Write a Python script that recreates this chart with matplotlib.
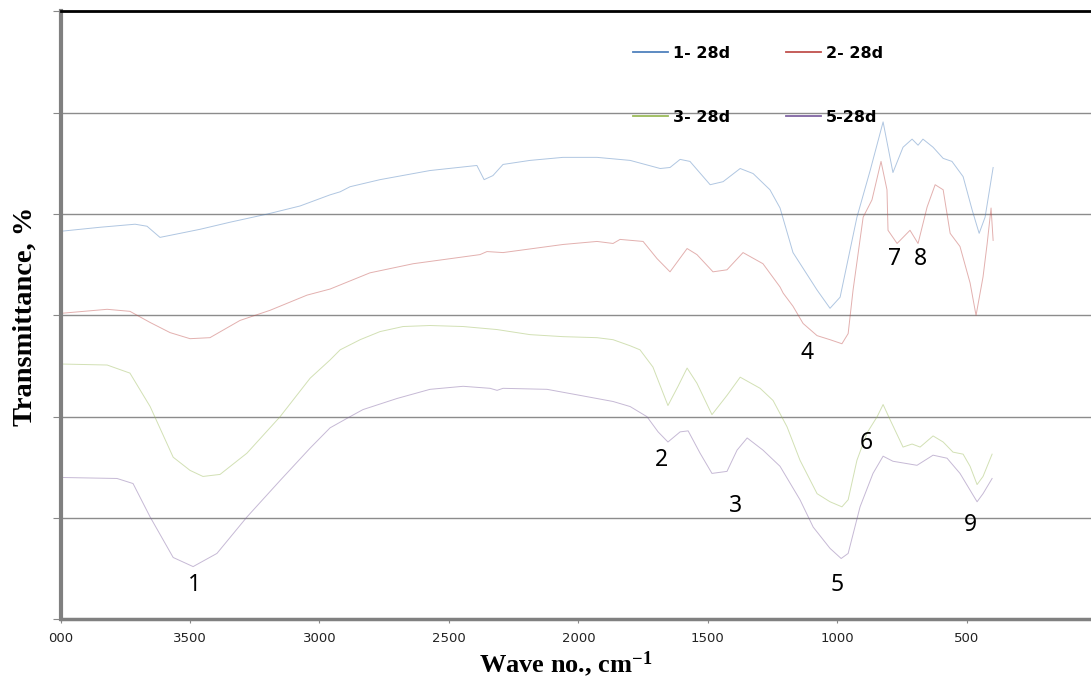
import numpy as np
import matplotlib
matplotlib.use('Agg')
from matplotlib import pyplot as plt

plt.rcParams['mathtext.default'] = 'regular'

# FTIR spectra (wave number in cm-1, transmittance in arbitrary %)
wn_1 = [4000, 3847, 3712, 3666, 3616, 3538, 3461, 3345, 3202, 3075, 2959, 2920, 2882, 2766, 2573,
        2392, 2364, 2330, 2291, 2187, 2059, 1928, 1800, 1684, 1646, 1607, 1569, 1491, 1441, 1375,
        1325, 1260, 1221, 1171, 1078, 1028, 989, 924, 873, 823, 785, 746, 711, 688, 669, 630,
        591, 557, 514, 479, 452, 429, 398]
tr_1 = [38.3, 38.7, 39.0, 38.8, 37.7, 38.1, 38.5, 39.2, 40.0, 40.8, 41.9, 42.2, 42.7, 43.4, 44.3,
        44.8, 43.4, 43.8, 44.9, 45.3, 45.6, 45.6, 45.3, 44.5, 44.6, 45.4, 45.2, 42.9, 43.2, 44.5,
        44.0, 42.4, 40.6, 36.2, 32.5, 30.7, 31.8, 39.7, 44.3, 49.1, 44.1, 46.6, 47.4, 46.8, 47.4, 46.6,
        45.5, 45.2, 43.7, 40.4, 38.1, 39.7, 44.6]

wn_2 = [4000, 3820, 3732, 3654, 3577, 3500, 3423, 3307, 3191, 3048, 2959, 2805, 2638, 2380, 2353,
        2291, 2059, 1928, 1866, 1839, 1750, 1696, 1646, 1580, 1542, 1480, 1426, 1364, 1287, 1221,
        1209, 1171, 1132, 1078, 1028, 982, 958, 939, 900, 866, 831, 808, 804, 769, 719, 688, 653,
        622, 591, 564, 526, 487, 464, 437, 421, 406, 398]
tr_2 = [30.2, 30.6, 30.4, 29.3, 28.3, 27.7, 27.8, 29.5, 30.5, 32.0, 32.6, 34.2, 35.1, 36.0, 36.3,
        36.2, 37.0, 37.3, 37.1, 37.5, 37.3, 35.6, 34.3, 36.6, 36.0, 34.3, 34.5, 36.2, 35.1, 32.8,
        32.2, 30.9, 29.2, 28.0, 27.6, 27.2, 28.2, 32.5, 39.7, 41.4, 45.2, 42.4, 38.4, 37.1, 38.4, 37.1, 40.7,
        42.9, 42.4, 38.1, 36.8, 33.2, 30.0, 33.8, 37.1, 40.6, 37.4]

wn_3 = [4000, 3820, 3732, 3654, 3565, 3500, 3450, 3384, 3280, 3152, 3036, 2959, 2920, 2843, 2766,
        2677, 2573, 2445, 2314, 2187, 2059, 1928, 1866, 1800, 1762, 1712, 1654, 1615, 1580, 1542,
        1484, 1426, 1375, 1298, 1248, 1194, 1144, 1078, 1028, 982, 958, 924, 885, 846, 823, 796,
        746, 711, 680, 630, 591, 553, 514, 487, 460, 437, 402]
tr_3 = [25.2, 25.1, 24.3, 21.0, 16.0, 14.7, 14.1, 14.3, 16.4, 20.0, 23.8, 25.6, 26.6, 27.6, 28.4,
        28.9, 29.0, 28.9, 28.6, 28.1, 27.9, 27.8, 27.6, 27.0, 26.6, 24.9, 21.1, 23.0, 24.8, 23.3,
        20.2, 22.1, 23.9, 22.8, 21.6, 19.0, 15.7, 12.4, 11.6, 11.1, 11.8, 15.7, 18.4, 20.0, 21.2, 19.7,
        17.0, 17.3, 17.0, 18.1, 17.5, 16.5, 16.3, 15.1, 13.3, 14.1, 16.3]

wn_5 = [4000, 3782, 3720, 3654, 3565, 3488, 3396, 3280, 3152, 3036, 2959, 2882, 2832, 2700, 2573,
        2445, 2341, 2314, 2291, 2121, 1993, 1866, 1800, 1735, 1692, 1654, 1607, 1576, 1530, 1484,
        1426, 1387, 1348, 1287, 1221, 1144, 1093, 1028, 985, 958, 912, 862, 823, 785, 692, 630,
        576, 526, 460, 437, 402]
tr_5 = [14.0, 13.9, 13.4, 10.1, 6.1, 5.2, 6.5, 10.1, 13.7, 16.9, 18.9, 20.0, 20.7, 21.8, 22.7,
        23.0, 22.8, 22.6, 22.8, 22.7, 22.1, 21.5, 21.0, 20.0, 18.5, 17.5, 18.5, 18.6, 16.4, 14.4,
        14.6, 16.7, 17.9, 16.7, 15.1, 11.8, 9.1, 7.0, 6.0, 6.5, 11.1, 14.4, 16.1, 15.6, 15.2, 16.2,
        15.9, 14.4, 11.6, 12.4, 13.9]

# band numbers
band_labels = ['1', '2', '3', '4', '5', '6', '7', '8', '9']
band_wn = [3484, 1677, 1395, 1115, 1002, 886, 777, 680, 487]
band_tr = [3.4, 15.7, 11.2, 26.3, 3.4, 17.4, 35.6, 35.6, 9.3]

xticks = [4000, 3500, 3000, 2500, 2000, 1500, 1000, 500]
xtick_labels = ['000', '3500', '3000', '2500', '2000', '1500', '1000', '500']

colors = ['#4f81bd', '#c0504d', '#9bbb59', '#8064a2']

fig = plt.figure(figsize = (10.91, 6.8), dpi = 100)
ax = fig.add_axes([0.0555, 0.0893, 0.9445, 0.8938])

h1, = ax.plot(wn_1, tr_1, color = colors[0], lw = 0.7, alpha = 0.45)
h2, = ax.plot(wn_2, tr_2, color = colors[1], lw = 0.7, alpha = 0.45)
h3, = ax.plot(wn_3, tr_3, color = colors[2], lw = 0.7, alpha = 0.45)
h5, = ax.plot(wn_5, tr_5, color = colors[3], lw = 0.7, alpha = 0.45)

for lab, x, y in zip(band_labels, band_wn, band_tr):
    ax.text(x, y, lab, fontsize = 16.5, family = 'Noto Sans', ha = 'center', va = 'center')

ax.set_xlim(4000, 20)
ax.set_ylim(0, 60)
ax.set_xticks(xticks)
ax.set_xticklabels(xtick_labels, fontsize = 9.5, color = '#222222')
ax.set_yticks(np.arange(0, 61, 10))
ax.set_yticklabels([])
ax.tick_params(axis = 'x', direction = 'out', length = 3, color = '#888888', pad = 6)
ax.tick_params(axis = 'y', direction = 'out', length = 6, color = '#888888')
ax.grid(axis = 'y', color = '#8c8c8c', lw = 1)
ax.set_axisbelow(True)

ax.spines['top'].set_color('black')
ax.spines['top'].set_linewidth(2)
ax.spines['right'].set_visible(False)
ax.spines['left'].set_color('#808080')
ax.spines['left'].set_linewidth(3)
ax.spines['bottom'].set_color('#808080')
ax.spines['bottom'].set_linewidth(2.5)

# legend: two rows, 1 & 2 on top, 3 & 5 below
leg_handles = [h1, h3, h2, h5]
leg_labels = ['1- 28d', '3- 28d', '2- 28d', '5-28d']
leg = ax.legend(leg_handles, leg_labels, ncol = 2, frameon = False,
                loc = 'upper left', bbox_to_anchor = (633/1091, 1 - 46/680), bbox_transform = fig.transFigure,
                borderpad = 0, borderaxespad = 0, handlelength = 2.2, handletextpad = 0.3,
                labelspacing = 3.05, columnspacing = 3.5,
                prop = {'family': 'DejaVu Sans', 'weight': 'bold', 'size': 11.5})
for line in leg.get_lines():
    line.set_alpha(1)
    line.set_linewidth(1.3)

fig.text(24.7/1091, 1 - 316.5/680, 'Transmittance, %', rotation = 90, ha = 'center', va = 'center',
         family = 'Liberation Serif', fontweight = 'bold', fontsize = 20.5)
fig.text(566/1091, 8/680, 'Wave no., cm$^{-1}$', ha = 'center', va = 'baseline',
         family = 'Liberation Serif', fontweight = 'bold', fontsize = 19)

fig.savefig('out.png', dpi = 100)
